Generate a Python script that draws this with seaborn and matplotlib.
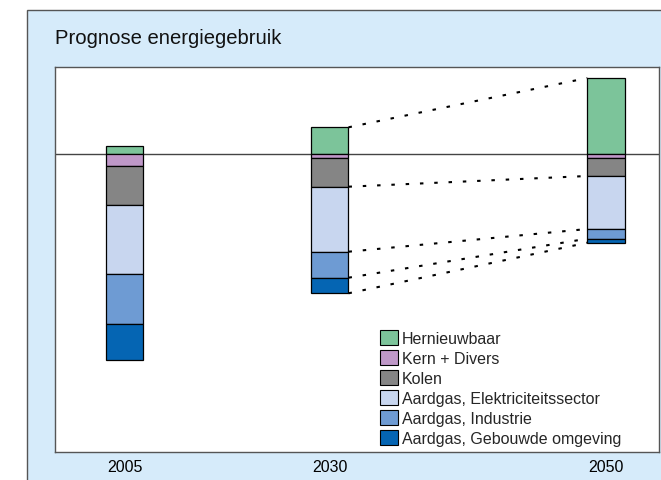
import numpy as np
import matplotlib
matplotlib.use("Agg")
import matplotlib.pyplot as plt
from matplotlib.patches import Patch, Rectangle
import seaborn as sns

# chart data (heights, arbitrary units)
years = ["2005", "2030", "2050"]
x_pos = [0, 1, 2.35]
hernieuwbaar = [7.7, 26.7, 76]
kern_divers = [12.3, 4.3, 3.7]
kolen = [39, 28.4, 18.3]
gas_elektriciteit = [68.4, 65, 53]
gas_industrie = [50.6, 26, 9.7]
gas_gebouwd = [36, 15.6, 4]

labels = ["Hernieuwbaar", "Kern + Divers", "Kolen",
          "Aardgas, Elektriciteitssector", "Aardgas, Industrie",
          "Aardgas, Gebouwde omgeving"]
colors = ["#7cc49a", "#bf98c8", "#858585", "#c8d6ef", "#6e9bd3", "#0565b3"]

sns.set_theme(style="white")
plt.rcParams["font.family"] = ["Liberation Sans", "DejaVu Sans"]
plt.rcParams["lines.scale_dashes"] = False

fig = plt.figure(figsize=(6.61, 4.81), dpi=100)
fig.patch.set_facecolor("white")

# light blue background panel
panel = Rectangle((26.5 / 661, -0.1), 1.0, 1.1 - 10.5 / 481,
                  transform=fig.transFigure, facecolor="#d6ebfa",
                  edgecolor="#555555", linewidth=1.0, zorder=0)
fig.add_artist(panel)

ax = fig.add_axes([55 / 661, 28 / 481, 604 / 661, 385 / 481])
ax.set_facecolor("white")
ax.set_zorder(1)

bar_w = 0.185
bar_kw = dict(native_scale=True, width=bar_w, errorbar=None, saturation=1,
              edgecolor="black", linewidth=0.9, ax=ax)

# renewables sit above the reference line
sns.barplot(x=x_pos, y=hernieuwbaar, bottom=np.zeros(3), color=colors[0], **bar_kw)

# the rest is stacked downwards from the reference line
below = [kern_divers, kolen, gas_elektriciteit, gas_industrie, gas_gebouwd]
top = np.zeros(3)
levels = [np.array(hernieuwbaar, dtype=float)]
for vals, col in zip(below, colors[1:]):
    vals = np.array(vals, dtype=float)
    sns.barplot(x=x_pos, y=-vals, bottom=top, color=col, **bar_kw)
    top = top - vals
    levels.append(top.copy())

# reference line
ax.axhline(0, color="#444444", linewidth=1.0, zorder=0.5)

# dotted connectors 2030 -> 2050
for i in [0, 2, 3, 4, 5]:
    ax.plot([x_pos[1] + bar_w / 2, x_pos[2] - bar_w / 2],
            [levels[i][1], levels[i][2]],
            color="black", linewidth=1.5, linestyle=(0, (2.5, 7.8)))

ax.set_xlim(-0.339, 2.607)
ax.set_ylim(-298, 87)
ax.set_xticks(x_pos, years)
ax.set_yticks([])
ax.set_xlabel("")
ax.set_ylabel("")
ax.tick_params(axis="x", length=0, pad=5, labelsize=11.5, colors="black")
for sp in ax.spines.values():
    sp.set_visible(True)
    sp.set_color("#555555")
    sp.set_linewidth(1.0)

handles = [Patch(facecolor=c, edgecolor="black", linewidth=0.8) for c in colors]
ax.legend(handles, labels, loc="upper left",
          bbox_to_anchor=(380 / 661, 1 - 331 / 481),
          bbox_transform=fig.transFigure, frameon=False, fontsize=11.5,
          borderpad=0, borderaxespad=0, handlelength=1.13, handleheight=1.03,
          handletextpad=0.25, labelspacing=0.27)

fig.text(55 / 661, 1 - 38 / 481, "Prognose energiegebruik",
         fontsize=14.6, va="center", ha="left", color="#111111")

fig.savefig("out.png", dpi=100)
